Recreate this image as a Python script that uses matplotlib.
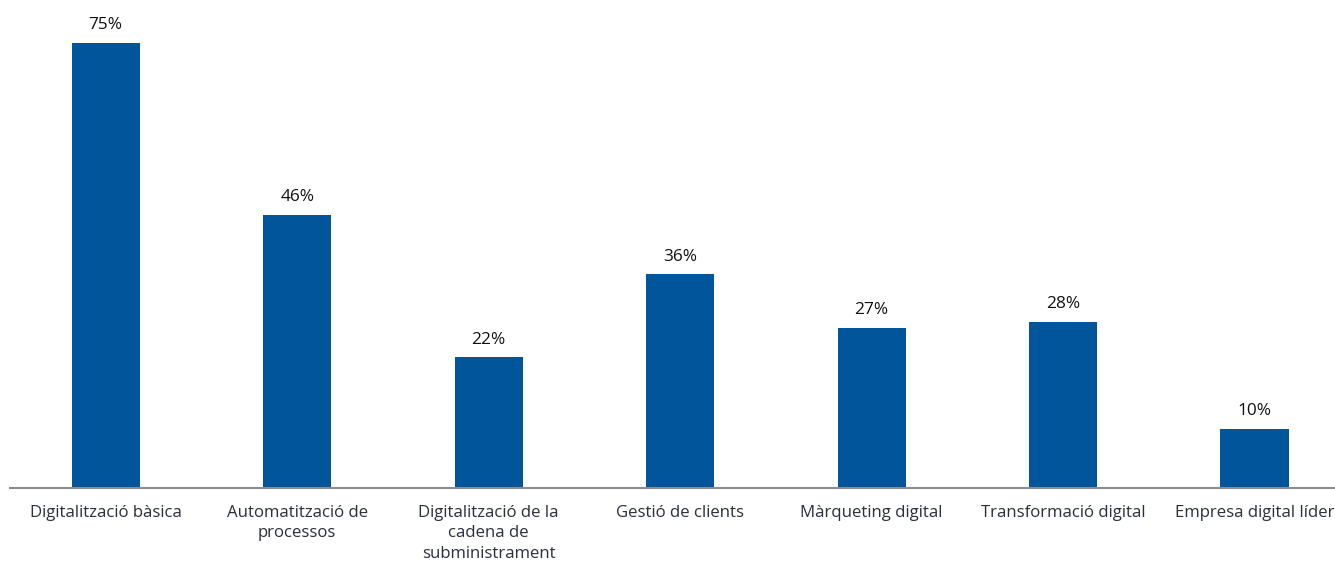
import matplotlib.pyplot as plt

categories = [
    "Digitalització bàsica",
    "Automatització de\nprocessos",
    "Digitalització de la\ncadena de\nsubministrament",
    "Gestió de clients",
    "Màrqueting digital",
    "Transformació digital",
    "Empresa digital líder",
]
values = [75, 46, 22, 36, 27, 28, 10]

plt.rcParams['font.family'] = ['Open Sans', 'DejaVu Sans']

fig = plt.figure(figsize=(13.35, 5.61), dpi=100)
ax = fig.add_axes([10 / 1335, 73 / 561, 1325 / 1335, 475 / 561])

x = list(range(len(categories)))
bars = ax.bar(x, values, width=0.356, color="#00559b", zorder=2)

for b, v in zip(bars, values):
    ax.annotate(f"{v}%", (b.get_x() + b.get_width() / 2, v),
                xytext=(0, 7), textcoords="offset points",
                ha="center", va="bottom", fontsize=12.4, color="#111111")

ax.set_xlim(-0.5, 6.42)
ax.set_ylim(0, 80)
ax.set_xticks(x)
ax.set_xticklabels(categories, fontsize=12.1, color="#2a2f3a", linespacing=1.38)
ax.tick_params(axis="x", length=0, pad=12)
ax.set_yticks([])

for s in ["top", "right", "left"]:
    ax.spines[s].set_visible(False)
ax.spines["bottom"].set_color("#8a8c8e")
ax.spines["bottom"].set_linewidth(1.5)

fig.savefig("out.png", dpi=100)
